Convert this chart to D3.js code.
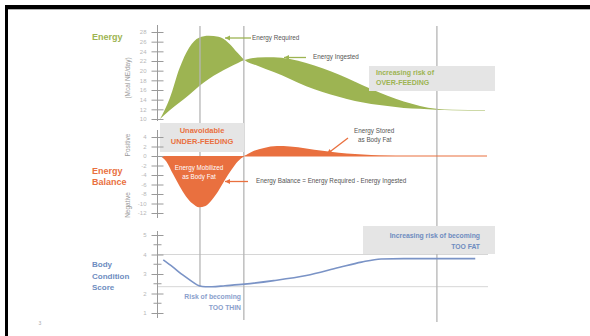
<!DOCTYPE html>
<html>
<head>
<meta charset="utf-8">
<script src="https://cdn.jsdelivr.net/npm/d3@7"></script>
<style>
  html, body { margin: 0; padding: 0; background: #fff; }
  svg { display: block; font-family: "Liberation Sans", Arial, sans-serif; }
</style>
</head>
<body>
<svg id="chart" width="590" height="336"></svg>
<script>
// Time axis (arbitrary units across the production cycle)
const stage = [0, 3, 6, 9, 12, 15, 18, 21, 24, 26, 30, 35, 40, 45, 50, 55, 60, 65, 70, 75, 80, 85, 90, 100];
// Energy (Mcal NE/day)
const energyRequired = [10, 14.3, 20.5, 24.8, 26.8, 27.2, 27.0, 25.8, 23.6, 22.2, 21.0, 19.7, 18.3, 16.8, 15.6, 14.6, 13.7, 13.1, 12.7, 12.3, 12.1, 11.9, 11.8, 11.7];
const energyIngested = [10, 11.8, 13.4, 15.0, 16.8, 18.3, 19.5, 20.6, 21.6, 22.2, 22.7, 22.8, 22.4, 21.6, 20.5, 19.2, 17.7, 16.2, 14.8, 13.6, 12.7, 12.1, 11.9, 11.8];
// Energy balance
const balanceStage = [0, 2, 4, 6, 8, 10, 12, 14, 16, 18, 20, 22, 24, 26, 28, 32, 36, 40, 45, 50, 55, 60, 65, 70, 75, 80, 90, 100];
const energyBalance = [0, -1.2, -3.8, -6.3, -8.5, -10.0, -10.8, -10.5, -9.2, -7.3, -5.0, -2.9, -1.1, 0, 0.8, 1.7, 2.1, 2.0, 1.6, 1.1, 0.7, 0.4, 0.2, 0.05, 0, 0, 0, 0];
// Body condition score
const bcsStage = [1, 4, 7, 10, 12, 14, 16, 20, 26, 35, 45, 55, 62, 68, 75, 90, 97];
const bcsValues = [3.72, 3.35, 2.95, 2.6, 2.4, 2.35, 2.35, 2.4, 2.48, 2.66, 2.92, 3.33, 3.61, 3.77, 3.79, 3.79, 3.79];
// Phase boundaries and BCS reference levels
const phaseBounds = [12.3, 25.8, 85.2];
const bcsLevels = [4, 2.35];
// Tick values
const energyTicks = [10, 12, 14, 16, 18, 20, 22, 24, 26, 28];
const balanceTicks = [4, 2, 0, -2, -4, -6, -8, -10, -12];
const bcsTicks = [1, 2, 3, 4, 5];
const bcsMinorTicks = [1.5, 2.5, 3.5, 4.5];

const GREEN = "#9db452", ORANGE = "#e9703f", BLUE = "#7a93c6", BLUE_TXT = "#6e8cc0";
const GRID = "#b5b5b5", AXIS = "#9a9a9a", TICKTXT = "#b8b8b8", NOTE = "#555";

const svg = d3.select("#chart");

// frame
svg.append("rect").attr("x", 0).attr("y", 0).attr("width", 590).attr("height", 336).attr("fill", "#fff");
svg.append("rect").attr("x", 5).attr("y", 5).attr("width", 585).attr("height", 4).attr("fill", "#000");
svg.append("rect").attr("x", 5).attr("y", 5).attr("width", 3).attr("height", 331).attr("fill", "#000");
svg.append("rect").attr("x", 8).attr("y", 9).attr("width", 582).attr("height", 1).attr("fill", "#b0b0b0");

const x = d3.scaleLinear().domain([0, 100]).range([160, 485]);
const yE = d3.scaleLinear().domain([10, 28]).range([119, 32]);
const yB = d3.scaleLinear().domain([-12, 4]).range([213, 137]);
const yS = d3.scaleLinear().domain([1, 5]).range([313, 235]);

const curve = d3.curveMonotoneX;

// ---- Energy panel ----
const energyRows = stage.map((s, i) => ({ s, req: energyRequired[i], ing: energyIngested[i] }));
svg.append("path")
  .datum(energyRows)
  .attr("fill", GREEN)
  .attr("d", d3.area().curve(curve).x(d => x(d.s)).y0(d => yE(d.ing)).y1(d => yE(d.req)));

// BCS reference levels
svg.selectAll(".lvl").data(bcsLevels).join("line")
  .attr("x1", 158).attr("x2", 488)
  .attr("y1", d => yS(d)).attr("y2", d => yS(d))
  .attr("stroke", "#d6d6d6").attr("stroke-width", 1);

// phase boundaries
const boundBottom = [yS(bcsLevels[1]), 320, 322];
svg.selectAll(".bound").data(phaseBounds).join("line")
  .attr("x1", d => x(d)).attr("x2", d => x(d))
  .attr("y1", 26).attr("y2", (d, i) => boundBottom[i])
  .attr("stroke", GRID).attr("stroke-width", 1.3);

// ---- Shaded notes ----
function box(x0, y0, w, h) {
  svg.append("rect").attr("x", x0).attr("y", y0).attr("width", w).attr("height", h).attr("fill", "#e5e5e5");
}
box(160, 123, 84, 29);
box(369, 66, 126, 25);
box(363, 226, 132, 28);

// ---- Energy balance ----
const balRows = balanceStage.map((s, i) => ({ s, v: energyBalance[i] }));
svg.append("line")
  .attr("x1", x(26)).attr("x2", x(100) + 2)
  .attr("y1", yB(0)).attr("y2", yB(0))
  .attr("stroke", ORANGE).attr("stroke-width", 1.2);
svg.append("path")
  .datum(balRows)
  .attr("fill", ORANGE)
  .attr("d", d3.area().curve(curve).x(d => x(d.s)).y0(yB(0)).y1(d => yB(d.v)));

// ---- Body condition score ----
const bcsRows = bcsStage.map((s, i) => ({ s, v: bcsValues[i] }));
svg.append("path")
  .datum(bcsRows)
  .attr("fill", "none")
  .attr("stroke", BLUE).attr("stroke-width", 1.6)
  .attr("d", d3.line().curve(curve).x(d => x(d.s)).y(d => yS(d.v)));

// ---- Axes ----
function crossAxis(scale, ticks, top, bottom, fmt) {
  const g = svg.append("g").attr("transform", "translate(157.5,0)");
  g.call(d3.axisLeft(scale).tickValues(ticks).tickSize(6).tickFormat(fmt || d3.format("d")));
  g.select(".domain").remove();
  g.selectAll(".tick line").attr("x1", -6).attr("x2", 6).attr("stroke", AXIS);
  g.selectAll(".tick text").attr("x", -11).attr("fill", TICKTXT)
    .style("font-size", "6px").style("font-family", "Liberation Sans, Arial, sans-serif");
  g.append("line").attr("x1", 0).attr("x2", 0).attr("y1", top).attr("y2", bottom).attr("stroke", AXIS);
  return g;
}
crossAxis(yE, energyTicks, 25, 121);
crossAxis(yB, balanceTicks, 130, 218, d => d < 0 ? "-" + Math.abs(d) : d);
const bcsAxis = crossAxis(yS, bcsTicks, 231, 318);
bcsAxis.selectAll(".minor").data(bcsMinorTicks).join("line")
  .attr("x1", -4).attr("x2", 4).attr("y1", d => yS(d)).attr("y2", d => yS(d)).attr("stroke", AXIS);

// ---- Text ----
function text(str, tx, ty, opt) {
  opt = opt || {};
  return svg.append("text")
    .attr("x", tx).attr("y", ty)
    .attr("fill", opt.fill || NOTE)
    .attr("text-anchor", opt.anchor || "start")
    .attr("dominant-baseline", "middle")
    .style("font-size", (opt.size || 6.5) + "px")
    .style("font-weight", opt.bold ? "bold" : "normal")
    .text(str);
}
function vtext(str, tx, ty, fill) {
  svg.append("text")
    .attr("transform", `translate(${tx},${ty}) rotate(-90)`)
    .attr("fill", fill || "#999")
    .attr("text-anchor", "middle")
    .attr("dominant-baseline", "middle")
    .style("font-size", "6.5px")
    .text(str);
}

// panel titles
text("Energy", 92, 38, { fill: GREEN, bold: true, size: 9 });
vtext("(Mcal NE/day)", 128, 78);
text("Energy", 92, 172, { fill: ORANGE, bold: true, size: 9 });
text("Balance", 92, 183, { fill: ORANGE, bold: true, size: 9 });
vtext("Positive", 128, 145);
vtext("Negative", 128, 205);
text("Body", 92, 265, { fill: BLUE_TXT, bold: true, size: 8 });
text("Condition", 92, 276.5, { fill: BLUE_TXT, bold: true, size: 8 });
text("Score", 92, 288, { fill: BLUE_TXT, bold: true, size: 8 });

// box notes
text("Unavoidable", 202, 131.5, { fill: ORANGE, bold: true, size: 7.5, anchor: "middle" });
text("UNDER-FEEDING", 202, 142.5, { fill: ORANGE, bold: true, size: 7.5, anchor: "middle" });
text("Increasing risk of", 376, 73, { fill: GREEN, bold: true, size: 7 });
text("OVER-FEEDING", 376, 83, { fill: GREEN, bold: true, size: 7 });
text("Increasing risk of becoming", 480, 236, { fill: BLUE_TXT, bold: true, size: 6.8, anchor: "end" });
text("TOO FAT", 480, 247, { fill: BLUE_TXT, bold: true, size: 6.8, anchor: "end" });
text("Risk of becoming", 241, 297, { fill: "#8aa0cc", bold: true, size: 6.8, anchor: "end" });
text("TOO THIN", 241, 308, { fill: "#8aa0cc", bold: true, size: 6.8, anchor: "end" });

// arrows
function arrow(x1, y1, x2, y2, color) {
  svg.append("line").attr("x1", x1).attr("y1", y1).attr("x2", x2).attr("y2", y2)
    .attr("stroke", color).attr("stroke-width", 1.3);
  const a = Math.atan2(y2 - y1, x2 - x1), L = 5, W = 2.6;
  const bx = x2 - L * Math.cos(a), by = y2 - L * Math.sin(a);
  const px = -Math.sin(a) * W, py = Math.cos(a) * W;
  svg.append("path")
    .attr("d", `M${x2},${y2}L${bx + px},${by + py}L${bx - px},${by - py}Z`)
    .attr("fill", color);
}
arrow(251, 38, 225, 38, GREEN);
text("Energy Required", 252, 38, { size: 6.3 });
arrow(306, 57.5, 284, 57.5, GREEN);
text("Energy Ingested", 313, 57.5, { size: 6.3 });
arrow(348, 138, 327, 154, ORANGE);
text("Energy Stored", 354, 131, { size: 6.3 });
text("as Body Fat", 358, 140, { size: 6.3 });
arrow(248, 181.5, 225, 181.5, ORANGE);
text("Energy Balance = Energy Required - Energy Ingested", 256, 181.5, { size: 6.3 });
text("Energy Mobilized", 199, 168, { size: 6.3, fill: "#fff", anchor: "middle" });
text("as Body Fat", 199, 177, { size: 6.3, fill: "#fff", anchor: "middle" });

text("3", 40, 323.5, { size: 5, fill: "#aaa", anchor: "middle" });
</script>
</body>
</html>
